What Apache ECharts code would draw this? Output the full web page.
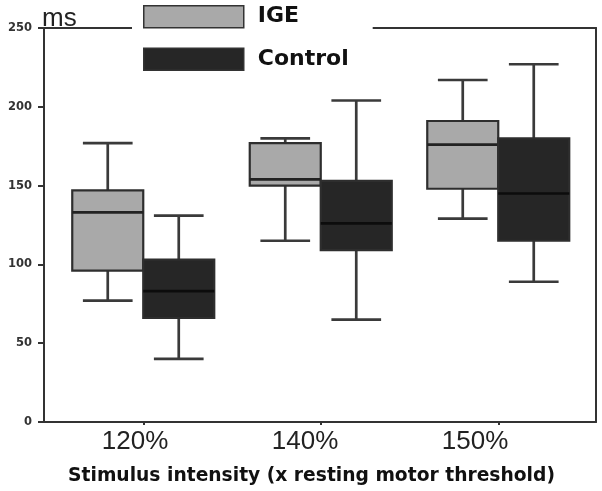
<!DOCTYPE html>
<html>
<head>
<meta charset="utf-8">
<script src="https://cdn.jsdelivr.net/npm/echarts@6/dist/echarts.min.js"></script>
<style>html,body{margin:0;padding:0;background:#fff}#c{width:602px;height:491px}</style>
</head>
<body>
<div id="c"></div>
<script>
// ---- data ----
const categories = ['120%', '140%', '150%'];
const seriesNames = ['IGE', 'Control'];
const yTicks = [0, 50, 100, 150, 200, 250];
// IGE group: whisker low, Q1, median, Q3, whisker high
const igeMin    = [77, 115, 129];
const igeQ1     = [96, 150, 148];
const igeMedian = [133, 154, 176];
const igeQ3     = [147, 177, 191];
const igeMax    = [177, 180, 217];
// Control group
const ctlMin    = [40, 65, 89];
const ctlQ1     = [66, 109, 115];
const ctlMedian = [83, 126, 145];
const ctlQ3     = [103, 153, 180];
const ctlMax    = [131, 204, 227];

function buildRows(mn, q1, md, q3, mx) {
  return categories.map((c, i) => [i, mn[i], q1[i], md[i], q3[i], mx[i]]);
}

const FILL = { IGE: '#a9a9a9', Control: '#262626' };
const LINE = '#2e2e2e';

function makeRender(side, fill, medColor) {
  return function (params, api) {
    const cat = api.value(0);
    const lo = api.value(1), q1 = api.value(2), md = api.value(3), q3 = api.value(4), hi = api.value(5);
    const band = api.size([1, 0])[0];
    const c = api.coord([cat, md])[0];
    const w = band * 0.4;
    const x0 = side < 0 ? c - w : c;
    const bx = x0 + w / 2;
    const capW = w * 0.7;
    const y = v => api.coord([cat, v])[1];
    const ls = { stroke: '#3a3a3a', lineWidth: 2.7 };
    return {
      type: 'group',
      children: [
        { type: 'line', shape: { x1: bx, y1: y(hi), x2: bx, y2: y(q3) }, style: ls },
        { type: 'line', shape: { x1: bx, y1: y(q1), x2: bx, y2: y(lo) }, style: ls },
        { type: 'line', shape: { x1: bx - capW / 2, y1: y(hi), x2: bx + capW / 2, y2: y(hi) }, style: ls },
        { type: 'line', shape: { x1: bx - capW / 2, y1: y(lo), x2: bx + capW / 2, y2: y(lo) }, style: ls },
        { type: 'rect', shape: { x: x0, y: y(q3), width: w, height: y(q1) - y(q3) },
          style: { fill: fill, stroke: LINE, lineWidth: 2.2 } },
        { type: 'line', shape: { x1: x0, y1: y(md), x2: x0 + w, y2: y(md) },
          style: { stroke: medColor, lineWidth: 2.7 } }
      ]
    };
  };
}

const chart = echarts.init(document.getElementById('c'), null, { renderer: 'canvas' });
const axisLineStyle = { color: '#333', width: 2 };
const option = {
  backgroundColor: '#fff',
  animation: false,
  title: {
    text: 'ms', left: 37, top: 1,
    textStyle: { fontFamily: 'Liberation Sans', fontSize: 26, fontWeight: 'normal', color: '#222' }
  },
  legend: {
    orient: 'vertical', left: 132, top: 1,
    padding: [4, 24, 4, 11],
    backgroundColor: '#fff',
    itemWidth: 100, itemHeight: 22, itemGap: 19,
    icon: 'rect',
    textStyle: { fontFamily: 'DejaVu Sans', fontWeight: 'bold', fontSize: 22, color: '#111', padding: [0, 0, 0, 9] },
    data: [
      { name: seriesNames[0], itemStyle: { color: FILL.IGE, borderColor: '#333', borderWidth: 1.5 } },
      { name: seriesNames[1], itemStyle: { color: FILL.Control, borderColor: '#333', borderWidth: 1.5 } }
    ]
  },
  grid: [
    { left: 44, top: 28, width: 552, height: 394 },          // frame
    { left: 50, top: 28, width: 510, height: 394 },          // category labels
    { left: 54.5, top: 28, width: 532.5, height: 394 }       // data
  ],
  xAxis: [
    { gridIndex: 0, type: 'category', data: categories, position: 'bottom',
      axisLine: { onZero: false, lineStyle: axisLineStyle }, axisTick: { show: false }, axisLabel: { show: false } },
    { gridIndex: 0, type: 'category', data: categories, position: 'top',
      axisLine: { onZero: false, lineStyle: axisLineStyle }, axisTick: { show: false }, axisLabel: { show: false } },
    { gridIndex: 1, type: 'category', data: categories, position: 'bottom',
      axisLine: { show: false, onZero: false }, axisTick: { show: false },
      axisLabel: { margin: 13, fontFamily: 'Liberation Sans', fontSize: 26, color: '#222' },
      name: 'Stimulus intensity (x resting motor threshold)', nameLocation: 'middle', nameGap: 51,
      nameTextStyle: { fontFamily: 'DejaVu Sans', fontWeight: 'bold', fontSize: 18.7, color: '#111', padding: [0, 0, 0, 13] } },
    { gridIndex: 2, type: 'category', data: categories, position: 'bottom',
      axisLine: { show: false, onZero: false }, axisLabel: { show: false },
      axisTick: { show: true, alignWithLabel: true, length: 3, lineStyle: { color: '#333', width: 2 } } }
  ],
  yAxis: [
    { gridIndex: 0, type: 'value', min: 0, max: 250, interval: 50, position: 'left',
      axisLine: { show: true, onZero: false, lineStyle: axisLineStyle },
      axisTick: { show: true, length: 6, lineStyle: { color: '#333', width: 2 } },
      axisLabel: { margin: 12, fontFamily: 'DejaVu Sans', fontWeight: 'bold', fontSize: 11.5, color: '#333',
        formatter: v => yTicks.includes(v) ? String(v) : '' },
      splitLine: { show: false } },
    { gridIndex: 0, type: 'value', min: 0, max: 250, interval: 50, position: 'right',
      axisLine: { show: true, onZero: false, lineStyle: axisLineStyle }, axisTick: { show: false },
      axisLabel: { show: false }, splitLine: { show: false } },
    { gridIndex: 1, type: 'value', min: 0, max: 250, show: false },
    { gridIndex: 2, type: 'value', min: 0, max: 250, show: false }
  ],
  series: [
    { name: seriesNames[0], type: 'custom', xAxisIndex: 3, yAxisIndex: 3,
      itemStyle: { color: FILL.IGE },
      encode: { x: 0, y: [1, 2, 3, 4, 5] },
      renderItem: makeRender(-1, FILL.IGE, '#222'),
      data: buildRows(igeMin, igeQ1, igeMedian, igeQ3, igeMax) },
    { name: seriesNames[1], type: 'custom', xAxisIndex: 3, yAxisIndex: 3,
      itemStyle: { color: FILL.Control },
      encode: { x: 0, y: [1, 2, 3, 4, 5] },
      renderItem: makeRender(1, FILL.Control, '#0c0c0c'),
      data: buildRows(ctlMin, ctlQ1, ctlMedian, ctlQ3, ctlMax) }
  ]
};
chart.setOption(option);
</script>
</body>
</html>
